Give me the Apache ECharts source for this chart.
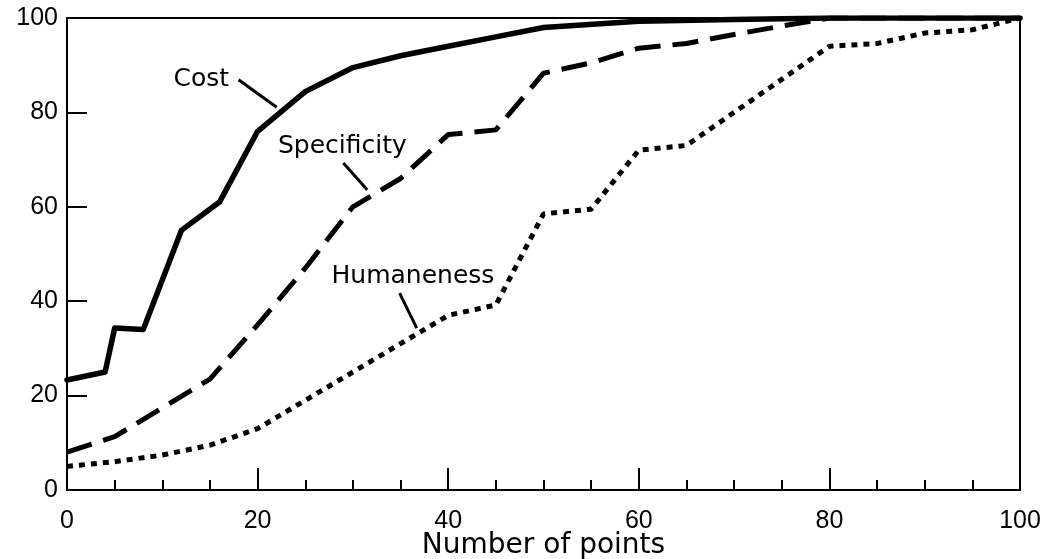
<!DOCTYPE html>
<html>
<head>
<meta charset="utf-8">
<script src="https://cdn.jsdelivr.net/npm/echarts@6/dist/echarts.min.js"></script>
<style>
html,body{margin:0;padding:0;background:#fff;}
#c{width:1060px;height:559px;}
</style>
</head>
<body>
<div id="c"></div>
<script>
// ---- data ----
const costX = [0, 4, 5, 8, 12, 16, 20, 25, 30, 35, 40, 45, 50, 60, 70, 80, 100];
const costY = [23.3, 25, 34.3, 34, 55, 61, 76, 84.4, 89.5, 92, 94, 96, 98, 99.3, 99.7, 100, 100];

const specX = [0, 5, 15, 20, 25, 30, 35, 40, 45, 50, 55, 60, 65, 70, 75, 80, 100];
const specY = [8, 11.3, 23.5, 35, 47, 60, 66, 75.3, 76.3, 88.3, 90.5, 93.6, 94.6, 96.5, 98.3, 100, 100];

const humX = [0, 5, 10, 15, 20, 25, 30, 35, 40, 45, 50, 55, 60, 65, 70, 75, 80, 85, 90, 95, 100];
const humY = [5, 6, 7.4, 9.5, 13, 19, 25, 31, 37, 39.2, 58.5, 59.5, 72, 73, 80, 87, 94, 94.6, 96.8, 97.5, 100];

const xTicks = [0, 20, 40, 60, 80, 100];
const yTicks = [0, 20, 40, 60, 80, 100];
const xTitle = 'Number of points';
const seriesNames = ['Cost', 'Specificity', 'Humaneness'];

// label anchors (data units): text centre, leader start, leader end
const annotations = [
  { text: 'Cost',        at: [14.1, 86.9], from: [18.0, 86.9], to: [22.0, 81.1] },
  { text: 'Specificity', at: [28.9, 72.7], from: [29.0, 69.3], to: [31.5, 63.6] },
  { text: 'Humaneness',  at: [36.3, 45.2], from: [34.9, 41.7], to: [36.7, 34.3] }
];

const zip = (xs, ys) => xs.map((x, i) => [x, ys[i]]);

const chart = echarts.init(document.getElementById('c'), null, { renderer: 'canvas' });
const tickFont = { fontFamily: 'Liberation Sans', fontSize: 25, color: '#000' };

const option = {
  backgroundColor: '#fff',
  animation: false,
  grid: { left: 67, right: 40, top: 18, bottom: 69, containLabel: false, outerBoundsMode: 'none',
    show: true, borderColor: '#000', borderWidth: 2, backgroundColor: 'transparent' },
  xAxis: {
    type: 'value', min: 0, max: 100, interval: 20,
    name: xTitle, nameLocation: 'middle', nameGap: 42, nameMoveOverlap: false,
    nameTextStyle: { fontFamily: 'DejaVu Sans', fontSize: 28, color: '#000' },
    axisLine: { show: true, lineStyle: { color: '#000', width: 2 } },
    axisTick: { show: true, inside: true, length: 22, lineStyle: { color: '#000', width: 2 } },
    minorTick: { show: true, splitNumber: 4, length: 10, lineStyle: { color: '#000', width: 2 } },
    splitLine: { show: false },
    axisLabel: Object.assign({ margin: 19, formatter: v => xTicks.includes(v) ? String(v) : '' }, tickFont)
  },
  yAxis: {
    type: 'value', min: 0, max: 100, interval: 20,
    axisLine: { show: true, lineStyle: { color: '#000', width: 2 } },
    axisTick: { show: true, inside: true, length: 20, lineStyle: { color: '#000', width: 2 } },
    splitLine: { show: false },
    axisLabel: Object.assign({ margin: 9, formatter: v => yTicks.includes(v) ? String(v) : '' }, tickFont)
  },
  series: [
    { name: seriesNames[0], type: 'line', data: zip(costX, costY), showSymbol: false, symbol: 'none',
      lineStyle: { color: '#000', width: 5.5, type: 'solid', join: 'round', cap: 'round' } },
    { name: seriesNames[1], type: 'line', data: zip(specX, specY), showSymbol: false, symbol: 'none',
      lineStyle: { color: '#000', width: 5, type: [26, 12], cap: 'butt' } },
    { name: seriesNames[2], type: 'line', data: zip(humX, humY), showSymbol: false, symbol: 'none',
      lineStyle: { color: '#000', width: 5, type: [6, 6], cap: 'butt' } }
  ]
};
chart.setOption(option);

function drawAnnotations() {
  const els = [];
  annotations.forEach(a => {
    const p = chart.convertToPixel({ gridIndex: 0 }, a.at);
    const f = chart.convertToPixel({ gridIndex: 0 }, a.from);
    const t = chart.convertToPixel({ gridIndex: 0 }, a.to);
    els.push({ type: 'text', x: p[0], y: p[1], z: 10,
      style: { text: a.text, fontFamily: 'DejaVu Sans', fontSize: 25, fill: '#000', align: 'center', verticalAlign: 'middle' } });
    els.push({ type: 'line', z: 10, shape: { x1: f[0], y1: f[1], x2: t[0], y2: t[1] },
      style: { stroke: '#000', lineWidth: 3 } });
  });
  chart.setOption({ graphic: els });
}
drawAnnotations();
</script>
</body>
</html>
